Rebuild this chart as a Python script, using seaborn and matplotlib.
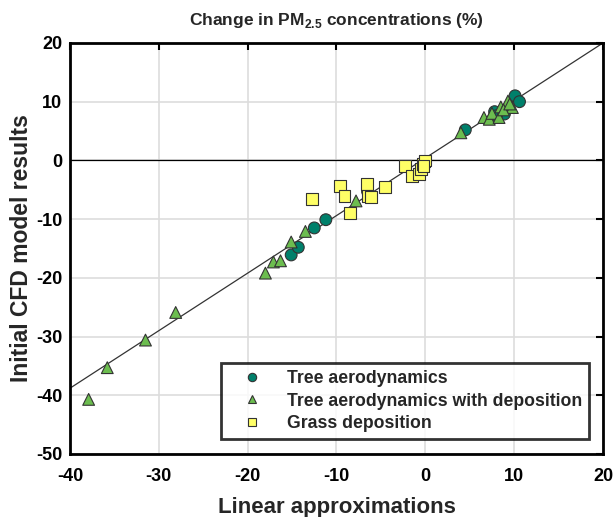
import numpy as np
import pandas as pd
import seaborn as sns
import matplotlib.pyplot as plt

# Tree aerodynamics (circles)
tree_x = [-15.1, -14.3, -12.5, -11.2, -6.5, 4.5, 7.8, 8.9, 10.1, 10.6, 8.0]
tree_y = [-16.1, -14.8, -11.5, -10.1, -5.3, 5.2, 8.3, 7.9, 11.0, 10.0, 7.6]

# Tree aerodynamics with deposition (triangles)
dep_x = [-37.9, -35.8, -31.5, -28.1, -18.0, -17.1, -16.3, -15.1, -13.5, -7.8,
         4.0, 6.6, 7.2, 7.5, 8.3, 8.5, 9.3, 9.8, 8.8, 9.5]
dep_y = [-40.7, -35.3, -30.6, -25.9, -19.2, -17.3, -17.1, -13.9, -12.1, -6.9,
         4.7, 7.3, 7.0, 8.0, 7.3, 9.1, 10.1, 9.0, 8.6, 9.6]

# Grass deposition (squares)
grass_x = [-12.8, -9.6, -9.1, -8.5, -6.6, -6.5, -6.1, -4.5, -2.3, -1.5,
           -0.7, -0.5, -0.3, -0.1, 0.0, -0.2]
grass_y = [-6.6, -4.3, -6.1, -8.9, -4.0, -6.0, -6.3, -4.5, -1.0, -2.6,
           -2.3, -1.4, -0.6, -0.2, 0.0, -0.9]

# fitted line
fit_x = [-40, 20]
fit_y = [-38.8, 20]

labels = ["Tree aerodynamics", "Tree aerodynamics with deposition", "Grass deposition"]

df = pd.concat([
    pd.DataFrame({"x": tree_x, "y": tree_y, "case": labels[0]}),
    pd.DataFrame({"x": dep_x, "y": dep_y, "case": labels[1]}),
    pd.DataFrame({"x": grass_x, "y": grass_y, "case": labels[2]}),
], ignore_index=True)

sns.set_style("whitegrid")
plt.rcParams["font.family"] = ["Liberation Sans", "DejaVu Sans"]
plt.rcParams["font.weight"] = "bold"
plt.rcParams["axes.unicode_minus"] = False
plt.rcParams["mathtext.fontset"] = "custom"
plt.rcParams["mathtext.rm"] = "Liberation Sans:bold"
plt.rcParams["mathtext.bf"] = "Liberation Sans:bold"

fig = plt.figure(figsize=(6.16, 5.17), dpi=100)
ax = fig.add_axes([0.1136, 0.1219, 0.8653, 0.795])

ax.axhline(0, color="black", lw=0.9, zorder=1)
ax.plot(fit_x, fit_y, color="#333333", lw=0.9, zorder=1)

palette = {labels[0]: "#00806b", labels[1]: "#6cbd4f", labels[2]: "#ffff66"}
markers = {labels[0]: "o", labels[1]: "^", labels[2]: "s"}
sns.scatterplot(data=df, x="x", y="y", hue="case", style="case",
                palette=palette, markers=markers, s=72,
                edgecolor="#333333", linewidth=0.8, ax=ax, zorder=3)

ax.set_xlim(-40, 20)
ax.set_ylim(-50, 20)
ax.set_xticks(np.arange(-40, 21, 10))
ax.set_yticks(np.arange(-50, 21, 10))
ax.grid(True, color="#dddddd", lw=1.2)
ax.tick_params(direction="in", length=5, width=1.5, top=True, right=True,
               labelsize=13, colors="black")
ax.tick_params(axis="x", pad=10)
ax.tick_params(axis="y", pad=5.5)
for sp in ax.spines.values():
    sp.set_color("black")
    sp.set_linewidth(2)

ax.set_xlabel("Linear approximations", fontsize=16, fontweight="bold", labelpad=9)
ax.set_ylabel("Initial CFD model results", fontsize=16.5, fontweight="bold", labelpad=2)
ax.set_title(r"Change in PM$_{\mathbf{2.5}}$ concentrations (%)",
             fontsize=12.5, fontweight="bold", pad=13)

leg = ax.legend(loc="lower right", bbox_to_anchor=(0.9737, 0.0365),
                fontsize=12.7, frameon=True, fancybox=False, borderpad=0.4,
                labelspacing=0.3, handlelength=2.8, handletextpad=0.55,
                borderaxespad=0)
leg.get_frame().set_edgecolor("black")
leg.get_frame().set_linewidth(2)
for h in leg.legend_handles:
    h.set_markersize(6)

fig.savefig("out.png", dpi=100)
